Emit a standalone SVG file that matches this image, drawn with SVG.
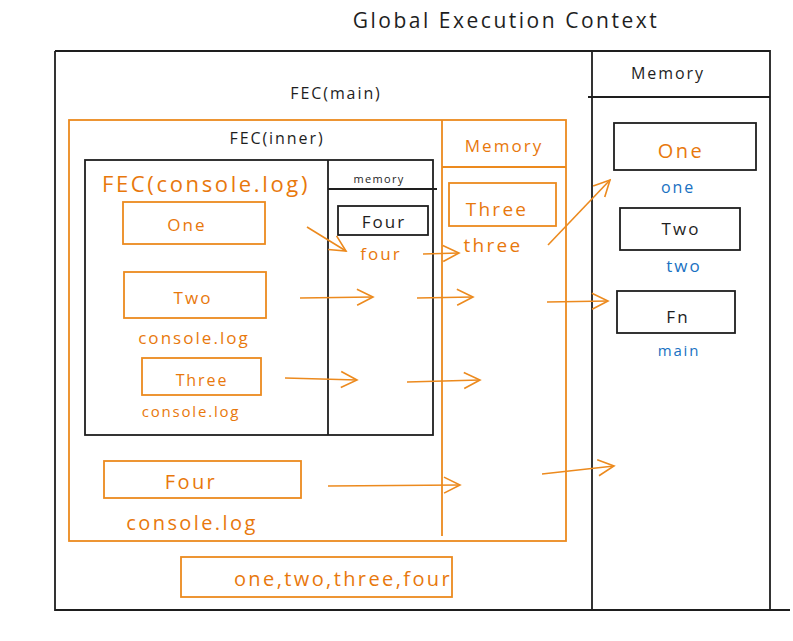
<svg xmlns="http://www.w3.org/2000/svg" width="793" height="641" viewBox="0 0 793 641">
<defs>
<style>
.bk{fill:none;stroke:#1e1e1e;stroke-width:1.8}
.or{fill:none;stroke:#ec8a1e;stroke-width:1.8}
.arr{fill:none;stroke:#ec8a1e;stroke-width:1.6;marker-end:url(#ah)}
text{font-family:"Open Sans","Liberation Sans",sans-serif;text-anchor:middle;dominant-baseline:central;letter-spacing:0.12em}
.tb{fill:#1e1e1e}
.to{fill:#e8780c}
.tl{fill:#1971c2}
</style>
<marker id="ah" viewBox="0 0 20 20" refX="18" refY="10" markerWidth="20" markerHeight="20" markerUnits="userSpaceOnUse" orient="auto">
<path d="M2,2 L18,10 L2,18" fill="none" stroke="#ec8a1e" stroke-width="1.6"/>
</marker>
</defs>
<rect width="793" height="641" fill="#ffffff"/>

<text id="title" class="tb" x="506" y="20" font-size="21">Global Execution Context</text>

<g id="gec">
<path class="bk" d="M55,51 L770,51 L770,610 M790,610 L55,610 L55,51"/>
<path class="bk" d="M592,51 L592,610 M588,97 L770,97"/>
<text class="tb" x="336" y="93" font-size="16">FEC(main)</text>
<text class="tb" x="668" y="73" font-size="16">Memory</text>
</g>

<g id="fec-main">
<rect class="or" x="69" y="120" width="497" height="421"/>
<path class="or" d="M442,120 L442,536 M442,167 L566,167"/>
<text class="to" x="504" y="145" font-size="17">Memory</text>
<text class="tb" x="277" y="138" font-size="16">FEC(inner)</text>
</g>

<g id="fec-inner">
<rect class="bk" x="85" y="160" width="348" height="275"/>
<path class="bk" d="M328,160 L328,435 M328,189 L437,189"/>
<text class="tb" x="379" y="178" font-size="11">memory</text>
<text class="to" x="206" y="183" font-size="22">FEC(console.log)</text>
</g>

<g id="one-box"><rect class="or" x="123" y="202" width="142" height="42"/><text class="to" x="187" y="224" font-size="17">One</text></g>
<g id="two-box"><rect class="or" x="124" y="272" width="142" height="46"/><text class="to" x="193" y="297" font-size="17">Two</text><text class="to" x="194" y="337" font-size="17">console.log</text></g>
<g id="three-box"><rect class="or" x="142" y="358" width="119" height="37"/><text class="to" x="202" y="380" font-size="16">Three</text><text class="to" x="191" y="411" font-size="15">console.log</text></g>
<g id="four-inner"><rect class="bk" x="338" y="206" width="90" height="29"/><text class="tb" x="384" y="221" font-size="17">Four</text><text class="to" x="381" y="253" font-size="17">four</text></g>
<g id="four-box"><rect class="or" x="104" y="461" width="197" height="37"/><text class="to" x="191" y="481" font-size="20">Four</text><text class="to" x="192" y="522" font-size="20">console.log</text></g>
<g id="three-mem"><rect class="or" x="449" y="183" width="107" height="43"/><text class="to" x="497" y="209" font-size="19">Three</text><text class="to" x="493" y="245" font-size="19">three</text></g>
<g id="result"><rect class="or" x="181" y="557" width="271" height="40"/><text class="to" x="343" y="578" font-size="20">one,two,three,four</text></g>

<g id="mem-one"><rect class="bk" x="614" y="123" width="142" height="47"/><text class="to" x="681" y="150" font-size="20">One</text><text class="tl" x="678" y="187" font-size="16">one</text></g>
<g id="mem-two"><rect class="bk" x="620" y="208" width="120" height="42"/><text class="tb" x="681" y="228" font-size="17">Two</text><text class="tl" x="684" y="265" font-size="17">two</text></g>
<g id="mem-fn"><rect class="bk" x="617" y="291" width="118" height="42"/><text class="tb" x="678" y="316" font-size="17">Fn</text><text class="tl" x="679" y="350" font-size="15">main</text></g>

<g id="connectors">
<path class="arr" d="M307,227 L346,251"/>
<path class="arr" d="M423,254 L459,253"/>
<path class="arr" d="M300,298 L373,297"/>
<path class="arr" d="M417,298 L473,297"/>
<path class="arr" d="M547,302 L608,301"/>
<path class="arr" d="M548,245 L610,180"/>
<path class="arr" d="M285,378 L357,380"/>
<path class="arr" d="M407,382 L480,380"/>
<path class="arr" d="M328,486 L460,485"/>
<path class="arr" d="M542,474 L614,466"/>
</g>
</svg>
